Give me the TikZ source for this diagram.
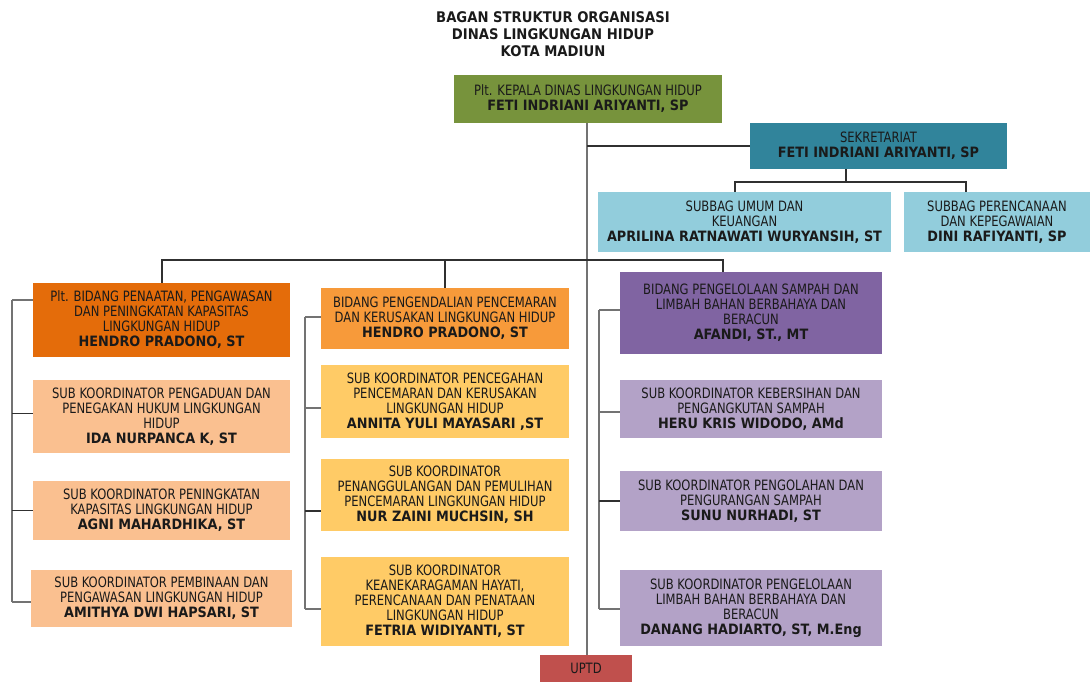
\documentclass[tikz,border=0pt]{standalone}
\usepackage{fontspec}
\setmainfont{DejaVu Sans Condensed}[FakeStretch=0.9, BoldFont={DejaVu Sans Bold}]
\definecolor{ckep}{HTML}{77933C}
\definecolor{csek}{HTML}{31849B}
\definecolor{csub}{HTML}{92CDDC}
\definecolor{cbidL}{HTML}{E46C0A}
\definecolor{csubL}{HTML}{FAC090}
\definecolor{cbidM}{HTML}{F79A3A}
\definecolor{csubM}{HTML}{FFCB66}
\definecolor{cbidR}{HTML}{8064A2}
\definecolor{csubR}{HTML}{B3A2C7}
\definecolor{cuptd}{HTML}{C0504D}
\definecolor{ctext}{HTML}{1A1A1A}
\definecolor{cline}{HTML}{303030}
\tikzset{
  box/.style={align=center, inner sep=0pt, text=ctext,
    font=\fontsize{10.7}{11.25}\selectfont},
  conn/.style={draw=cline, line width=0.8pt},
  spine/.style={draw=gray!90!black, line width=1pt}
}
\begin{document}
\begin{tikzpicture}[x=0.75pt,y=-0.75pt]
\useasboundingbox (0,0) rectangle (1091,682);
\node[align=center, font=\fontsize{11}{13}\selectfont\bfseries, text=ctext] (title) at (553,34)
  {BAGAN STRUKTUR ORGANISASI\\DINAS LINGKUNGAN HIDUP\\KOTA MADIUN};

\node[box, fill=ckep, minimum width=201pt, minimum height=36pt] (kep) at (588,99)
  {Plt. KEPALA DINAS LINGKUNGAN HIDUP\\\textbf{FETI INDRIANI ARIYANTI, SP}};
\node[box, fill=csek, minimum width=192.75pt, minimum height=34.5pt] (sek) at (878.5,146)
  {SEKRETARIAT\\\textbf{FETI INDRIANI ARIYANTI, SP}};
\node[box, fill=csub, minimum width=219.75pt, minimum height=45pt] (sumum) at (744.5,222)
  {SUBBAG UMUM DAN\\KEUANGAN\\\textbf{APRILINA RATNAWATI WURYANSIH, ST}};
\node[box, fill=csub, minimum width=139.5pt, minimum height=45pt] (sper) at (997,222)
  {SUBBAG PERENCANAAN\\DAN KEPEGAWAIAN\\\textbf{DINI RAFIYANTI, SP}};

% left column
\node[box, fill=cbidL, minimum width=192.75pt, minimum height=55.5pt] (bidL) at (161.5,320)
  {Plt. BIDANG PENAATAN, PENGAWASAN\\DAN PENINGKATAN KAPASITAS\\LINGKUNGAN HIDUP\\\textbf{HENDRO PRADONO, ST}};
\node[box, fill=csubL, minimum width=192.75pt, minimum height=54.75pt] (L1) at (161.5,416.5)
  {SUB KOORDINATOR PENGADUAN DAN\\PENEGAKAN HUKUM LINGKUNGAN\\HIDUP\\\textbf{IDA NURPANCA K, ST}};
\node[box, fill=csubL, minimum width=192.75pt, minimum height=44.25pt] (L2) at (161.5,510.5)
  {SUB KOORDINATOR PENINGKATAN\\KAPASITAS LINGKUNGAN HIDUP\\\textbf{AGNI MAHARDHIKA, ST}};
\node[box, fill=csubL, minimum width=195.75pt, minimum height=42.75pt] (L3) at (161.5,598.5)
  {SUB KOORDINATOR PEMBINAAN DAN\\PENGAWASAN LINGKUNGAN HIDUP\\\textbf{AMITHYA DWI HAPSARI, ST}};

% middle column
\node[box, fill=cbidM, minimum width=186pt, minimum height=45.75pt] (bidM) at (445,318.5)
  {BIDANG PENGENDALIAN PENCEMARAN\\DAN KERUSAKAN LINGKUNGAN HIDUP\\\textbf{HENDRO PRADONO, ST}};
\node[box, fill=csubM, minimum width=186pt, minimum height=54.75pt] (M1) at (445,401.5)
  {SUB KOORDINATOR PENCEGAHAN\\PENCEMARAN DAN KERUSAKAN\\LINGKUNGAN HIDUP\\\textbf{ANNITA YULI MAYASARI ,ST}};
\node[box, fill=csubM, minimum width=186pt, minimum height=54pt] (M2) at (445,495)
  {SUB KOORDINATOR\\PENANGGULANGAN DAN PEMULIHAN\\PENCEMARAN LINGKUNGAN HIDUP\\\textbf{NUR ZAINI MUCHSIN, SH}};
\node[box, fill=csubM, minimum width=186pt, minimum height=66.75pt] (M3) at (445,601.5)
  {SUB KOORDINATOR\\KEANEKARAGAMAN HAYATI,\\PERENCANAAN DAN PENATAAN\\LINGKUNGAN HIDUP\\\textbf{FETRIA WIDIYANTI, ST}};

% right column
\node[box, fill=cbidR, minimum width=196.5pt, minimum height=61.5pt] (bidR) at (751,313)
  {BIDANG PENGELOLAAN SAMPAH DAN\\LIMBAH BAHAN BERBAHAYA DAN\\BERACUN\\\textbf{AFANDI, ST., MT}};
\node[box, fill=csubR, minimum width=196.5pt, minimum height=43.5pt] (R1) at (751,409)
  {SUB KOORDINATOR KEBERSIHAN DAN\\PENGANGKUTAN SAMPAH\\\textbf{HERU KRIS WIDODO, AMd}};
\node[box, fill=csubR, minimum width=196.5pt, minimum height=45pt] (R2) at (751,501)
  {SUB KOORDINATOR PENGOLAHAN DAN\\PENGURANGAN SAMPAH\\\textbf{SUNU NURHADI, ST}};
\node[box, fill=csubR, minimum width=196.5pt, minimum height=57pt] (R3) at (751,608)
  {SUB KOORDINATOR PENGELOLAAN\\LIMBAH BAHAN BERBAHAYA DAN\\BERACUN\\\textbf{DANANG HADIARTO, ST, M.Eng}};

\node[box, fill=cuptd, minimum width=69pt, minimum height=20.25pt] (uptd) at (586,668.5) {UPTD};

% connectors
\coordinate (axis) at (587,0);
\draw[spine] (kep.south -| axis) -- (uptd.north -| axis);
\draw[conn] (sek.west) -- (sek.west -| axis);
\coordinate (sekdrop) at (846,182);
\coordinate (busL) at (735,182);
\coordinate (busR) at (966,182);
\draw[conn] (sek.south -| sekdrop) -- (sekdrop);
\draw[conn] (sumum.north -| busL) -- (busL) -- (busR) -- (sper.north -| busR);

\coordinate (hbusL) at (162,260);
\coordinate (hbusM) at (445,260);
\coordinate (hbusR) at (723,260);
\draw[conn] (bidL.north -| hbusL) -- (hbusL) -- (hbusR) -- (bidR.north -| hbusR);
\draw[conn] (hbusM) -- (bidM.north);

% left spine
\coordinate (sL1) at (12,300);
\coordinate (sL2) at (12,602);
\draw[spine] (sL1) -- (sL2);
\draw[spine] (sL1) -- (sL1 -| bidL.west);
\draw[conn] ([yshift=2.6pt]L1.west) -- ([yshift=2.6pt]L1.west -| sL1);
\draw[conn] (L2.west) -- (L2.west -| sL1);
\draw[spine] (sL2) -- (sL2 -| L3.west);

% middle spine
\coordinate (sM1) at (305,317);
\coordinate (sM2) at (305,609);
\draw[spine] (sM1) -- (sM2);
\draw[spine] (sM1) -- (sM1 -| bidM.west);
\draw[spine] ([yshift=-4.9pt]M1.west) -- ([yshift=-4.9pt]M1.west -| sM1);
\draw[conn] ([yshift=-12pt]M2.west) -- ([yshift=-12pt]M2.west -| sM1);
\draw[spine] (sM2) -- (sM2 -| M3.west);

% right spine
\coordinate (sR1) at (599,310);
\coordinate (sR2) at (599,609);
\draw[spine] (sR1) -- (sR2);
\draw[spine] (sR1) -- (sR1 -| bidR.west);
\draw[spine] ([yshift=-2.25pt]R1.west) -- ([yshift=-2.25pt]R1.west -| sR1);
\draw[conn] (R2.west) -- (R2.west -| sR1);
\draw[spine] (sR2) -- (sR2 -| R3.west);
\end{tikzpicture}
\end{document}
